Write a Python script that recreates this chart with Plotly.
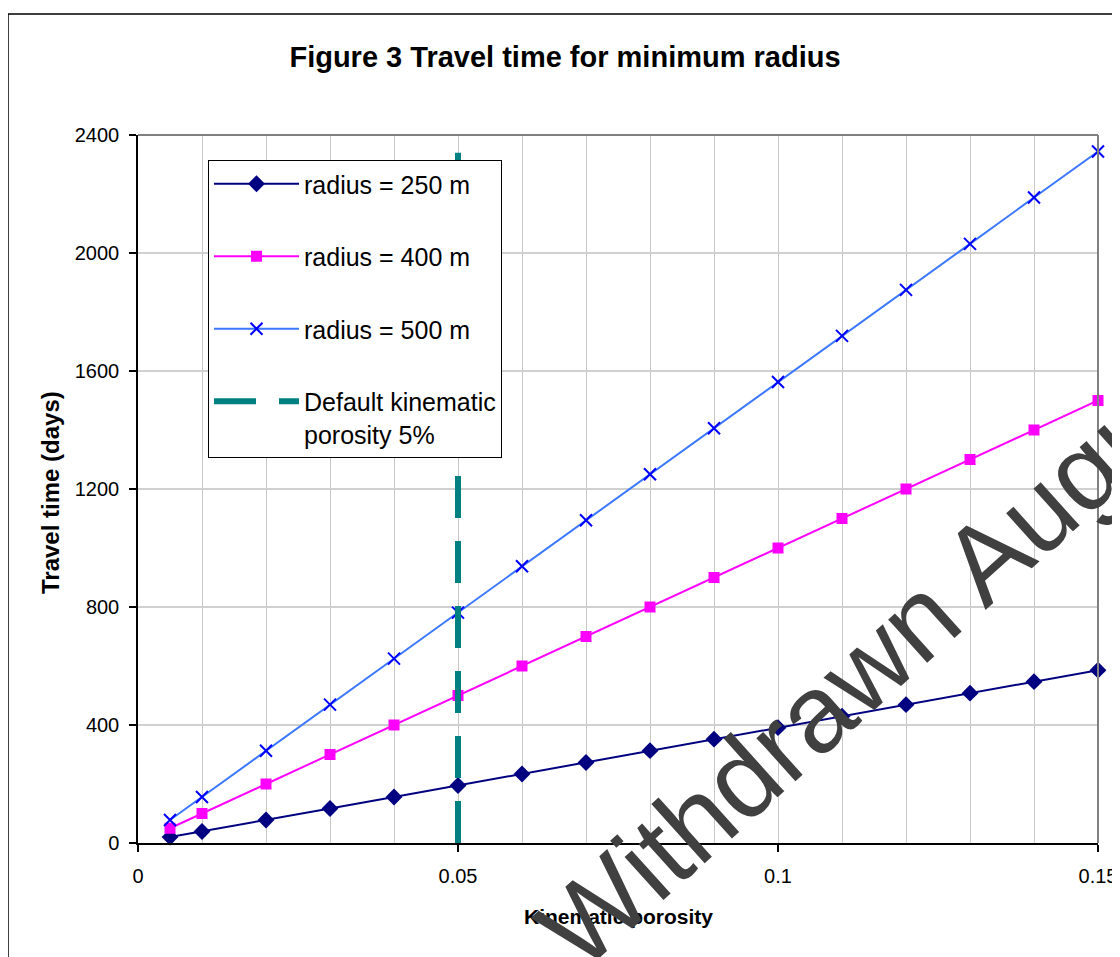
import plotly.graph_objects as go

# ---- data ----
porosity = [0.005, 0.01, 0.02, 0.03, 0.04, 0.05, 0.06, 0.07, 0.08, 0.09, 0.10, 0.11, 0.12, 0.13, 0.14, 0.15]
radius_250 = [20, 39, 78, 117, 156, 195, 234, 273, 313, 352, 391, 430, 469, 508, 547, 586]
radius_400 = [50, 100, 200, 300, 400, 500, 600, 700, 800, 900, 1000, 1100, 1200, 1300, 1400, 1500]
radius_500 = [78, 156, 313, 469, 625, 781, 938, 1094, 1250, 1406, 1563, 1719, 1875, 2031, 2188, 2344]
default_x = [0.05, 0.05]
default_y = [0, 2340]

series_names = ["radius = 250 m", "radius = 400 m", "radius = 500 m", "Default kinematic<br>porosity 5%"]
title_text = "Figure 3 Travel time for minimum radius"
x_title = "Kinematic porosity"
y_title = "Travel time (days)"
watermark = "Withdrawn August"

OFF = 8  # page body margin
W, H = 1112, 949
L, T = 130, 127
pw, ph = 960, 708
R, B = W - L - pw, H - T - ph


def px_x(p):
    return (p - OFF - L) / pw


def px_y(p):
    return (T + ph - (p - OFF)) / ph


FONT = "Liberation Sans, Arial, sans-serif"

fig = go.Figure()
fig.add_trace(go.Scatter(
    x=porosity, y=radius_250, name=series_names[0], mode="lines+markers",
    line=dict(color="#000080", width=2),
    marker=dict(symbol="diamond", size=13, color="#000080"),
    cliponaxis=False, legendgroup="a"))
fig.add_trace(go.Scatter(
    x=porosity, y=radius_400, name=series_names[1], mode="lines+markers",
    line=dict(color="#FF00FF", width=2),
    marker=dict(symbol="square", size=11, color="#FF00FF"),
    cliponaxis=False, legendgroup="b"))
fig.add_trace(go.Scatter(
    x=porosity, y=radius_500, name=series_names[2], mode="lines+markers",
    line=dict(color="#3C78FF", width=2),
    marker=dict(symbol="x-thin", size=12, color="#0000FF",
                line=dict(color="#0000FF", width=2)),
    cliponaxis=False, legendgroup="c"))
fig.add_trace(go.Scatter(
    x=default_x, y=default_y, name=series_names[3], mode="lines",
    line=dict(color="#008080", width=6, dash="42px,23px"),
    legendgroup="d"))

fig.update_layout(
    width=W, height=H,
    margin=dict(l=L, r=R, t=T, b=B, autoexpand=False),
    paper_bgcolor="white", plot_bgcolor="white",
    font=dict(family=FONT, color="black", size=20),
    title=dict(text="<b>" + title_text + "</b>", x=(565 - OFF) / W, xanchor="center",
               y=1 - (57 - OFF) / H, yanchor="middle",
               font=dict(family=FONT, size=29, color="black")),
    showlegend=True,
    legend=dict(x=px_x(208), y=px_y(160), xanchor="left", yanchor="top",
                bgcolor="white", bordercolor="black", borderwidth=1,
                font=dict(family=FONT, size=25, color="black"),
                tracegroupgap=37, itemwidth=85, valign="top",
                traceorder="grouped"),
    xaxis=dict(range=[0, 0.15], dtick=0.05, tick0=0, showgrid=True,
               gridcolor="#C8C8C8", gridwidth=1,
               minor=dict(dtick=0.01, showgrid=True, gridcolor="#C8C8C8", gridwidth=1),
               showline=True, linecolor="black", linewidth=1.5,
               ticks="outside", ticklen=7, tickcolor="black", tickwidth=1.5,
               tickfont=dict(family=FONT, size=20, color="black"),
               ticklabelstandoff=7, automargin=False,
               zeroline=False, fixedrange=True),
    yaxis=dict(range=[0, 2400], dtick=400, tick0=0, showgrid=True,
               gridcolor="#D0D0D0", gridwidth=1.5,
               showline=True, linecolor="black", linewidth=1.5,
               ticks="outside", ticklen=7, tickcolor="black", tickwidth=1.5,
               tickfont=dict(family=FONT, size=20, color="black"),
               ticklabelstandoff=6, automargin=False,
               zeroline=False, fixedrange=True),
)

# plot-area top/right borders (gray)
fig.add_shape(type="line", xref="paper", yref="paper", x0=0, x1=1, y0=1, y1=1,
              line=dict(color="#808080", width=2), layer="above")
fig.add_shape(type="line", xref="paper", yref="paper", x0=1, x1=1, y0=0, y1=1,
              line=dict(color="#808080", width=2), layer="above")
# outer chart frame
fig.add_shape(type="rect", xref="paper", yref="paper",
              x0=px_x(8), x1=px_x(1118), y0=px_y(1010), y1=px_y(14),
              line=dict(color="black", width=1.5), fillcolor="rgba(0,0,0,0)", layer="above")

# axis titles
fig.add_annotation(text="<b>" + y_title + "</b>", xref="paper", yref="paper",
                   x=px_x(50), y=px_y(493), textangle=-90, showarrow=False,
                   xanchor="center", yanchor="middle",
                   font=dict(family=FONT, size=24, color="black"))
fig.add_annotation(text="<b>" + x_title + "</b>", xref="paper", yref="paper",
                   x=px_x(618), y=px_y(916), showarrow=False,
                   xanchor="center", yanchor="middle",
                   font=dict(family=FONT, size=21, color="black"))
# watermark
fig.add_annotation(text=watermark, xref="paper", yref="paper",
                   x=px_x(884), y=px_y(649), textangle=-42, showarrow=False,
                   xanchor="center", yanchor="middle",
                   font=dict(family=FONT, size=110, color="#404040"))

fig.write_html("out.html")
